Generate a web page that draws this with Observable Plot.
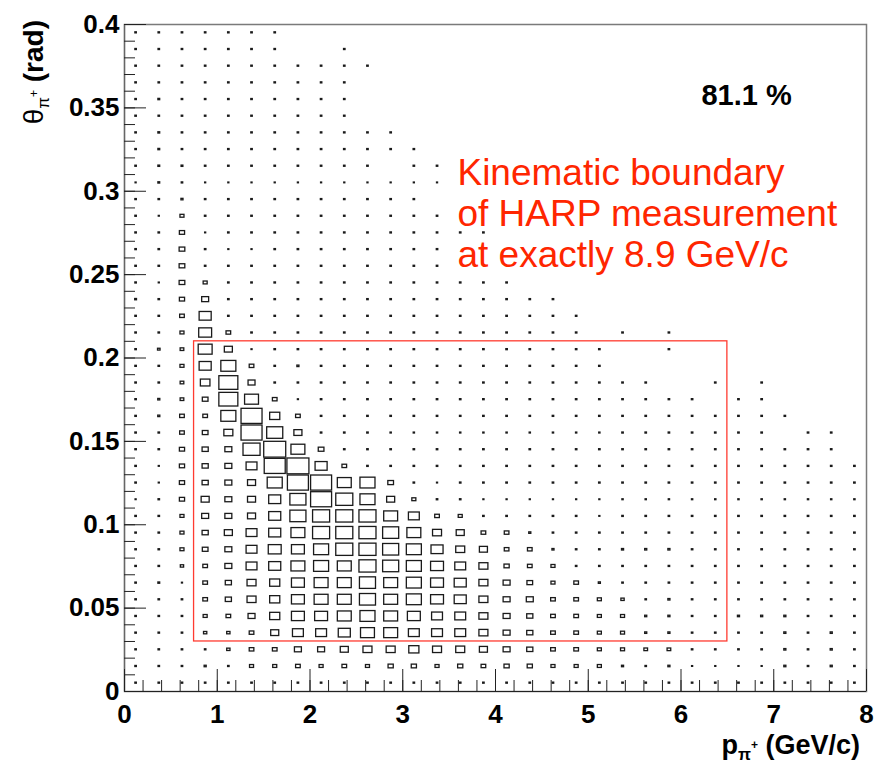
<!DOCTYPE html>
<html>
<head>
<meta charset="utf-8">
<script src="https://cdn.jsdelivr.net/npm/d3@7"></script>
<script src="https://cdn.jsdelivr.net/npm/@observablehq/plot@0.6"></script>
<style>
  html, body { margin: 0; padding: 0; background: #fff; }
  #chart svg { display: block; }
</style>
</head>
<body>
<div id="chart"></div>
<script>
// ---- Histogram binning ----
const pBinWidth = 0.25;      // GeV/c
const thetaBinWidth = 0.01;  // rad
const zMax = 100;            // content giving a full-bin box

// ---- Bin contents (relative), one list per theta bin, from theta = 0 upward.
// Each list runs over p bins from p = 0; missing trailing bins are empty.
const theta00 = [.4,.4,.4,.4,.4, .4,.4,.4,.4,.4, .4,.4,.4,.4,.4, .4,.4,.4,.4,.4, .4,.4,.4,.4,.4, .4,.4,.4,.4,.4, .4,.4];
const theta01 = [.4,.4,.4,.8,.4, 3,3,4,3,4, 3,5,5,3,5, 4,5,5,3,3, 3,.8,.4,.8,.2, .2,.2,.2,.8,.4, .8,.4];
const theta02 = [.4,.4,.4,.4,2, 4,4,9,9,12, 15,15,19,15,15, 12,9,7,4,4, 3,3,2.5,2.5,.4, .4,.4,.4,.8,.4, .8,.4];
const theta03 = [.4,.4,.4,2,2, 4,12,22,22,27, 36,36,22,22,22, 15,9,7,4,4, 3,3,.8,.8,.4, .4,.4,.4,.8,.4, .8,.4];
const theta04 = [.4,.4,.4,3,4, 9,19,31,31,36, 42,36,31,22,22, 15,9,7,4,4, 3,3,.8,.8,.4, .4,.8,.8,.8,.4, .4,.4];
const theta05 = [.4,.4,.4,4,7, 15,19,31,36,36, 48,36,42,31,27, 15,9,9,4,4, 3,2,.4,.8,.4, .4,.4,.4,.4,.4, .4,.4];
const theta06 = [.4,.6,.2,4,7, 15,19,31,36,36, 48,36,42,31,27, 15,9,6,3,4, .8,.4,.4,.4,.4, .4,.4,.4,.4,.4, .4,.4];
const theta07 = [.4,.4,2,4,9, 22,27,36,42,36, 54,48,42,31,22, 15,5,4,3,.4, .4,.4,.4,.4,.4, .4,.4,.4,.4,.4, .4,.4];
const theta08 = [.4,.4,3,6,9, 22,31,31,42,54, 54,48,42,27,15, 12,4,4,.8,.4, .4,.8,.8,.8,.4, .4,.4,.4,.4,.4, .4,.4];
const theta09 = [.4,.4,3,7,12, 22,27,36,54,54, 54,48,36,15,12, 4,4,.8,.4,.4, .4,.4,.4,.4,.4, .4,.4,.4,.4,.4, .4,.4];
const theta10 = [.4,.4,3,9,9, 12,27,48,54,54, 54,36,22,4,3, .4,.4,.4,.4,.4, .2,.4,.4,.4,.4, .4,.4,.4,.4,.4, .4,.4];
const theta11 = [.2,.4,5,12,9, 12,27,48,82,54, 42,12,3,.4,.4, .2,.2,.2,.2,.2, .2,.3,.3,.3,.3, .3,.3,.3,.3,.3, .3,.3];
const theta12 = [.4,.2,5,7,9, 12,42,82,82,36, 42,6,.4,.2,.4, .4,.4,.4,.4,.4, .4,.4,.4,.4,.4, .4,.4,.4,.4,.4, .4,.4];
const theta13 = [.4,.2,5,7,9, 22,82,90,27,4, .4,.4,.4,.4,.4, .4,.4,.4,.4,.4, .4,.4,.4,.4,.4, .4,.4,.4,.4,.4, .4,.4];
const theta14 = [.4,.4,5,7,9, 54,90,36,6,.4, .4,.4,.4,.4,.4, .4,.4,.4,.4,.4, .4,.4,.4,.4,.4, .4,.4,.4,.4,.4, .4];
const theta15 = [.4,.4,4,6,15, 82,48,12,.4,.4, .4,.3,.3,.3,.3, .3,.3,.3,.3,.3, .3,.4,.4,.4,.4, .4,.4,.4,0,.4, .4];
const theta16 = [.4,.8,4,4,42, 82,19,4,.4,.4, .4,.4,.4,.4,.4, .4,.4,.4,.4,.4, .4,.4,.4,.4,.4, .4,.4,.4,.4];
const theta17 = [.4,.8,2.5,6,67, 36,4,.2,.4,.4, .4,.4,.4,.4,.4, .4,.4,.4,.4,.4, .4,.4,.4,.4,.4, 0,.4,.4];
const theta18 = [.4,.4,2.5,17,67, 9,.4,.4,.4,.4, .4,.4,.4,.4,.4, .4,.4,.4,.4,.4, .4,.4,.4,0,0, .4,0,.4];
const theta19 = [.4,.4,3,27,42, 4,.4,.8,.4,.4, .4,.4,.4,.4,.4, .4,.4,.4,.4,.4, .4];
const theta20 = [.4,1.2,2.5,36,12, .2,.4,.4,.4,.4, .4,.4,.4,.4,.4, .4,.4,.4,.4,.4, .4,0,0,.4];
const theta21 = [.4,.4,3,31,4, .4,.4,.4,.4,.4, .4,.4,.4,.4,.4, .4,.4,.4,.4,.4, 0,.4,0,.4];
const theta22 = [.4,.4,4,27,.4, .4,.4,.4,.4,.4, .4,.4,.4,.4,.4, .4,.4,.4,.4,.4];
const theta23 = [.6,.4,5,9,.4, .4,.4,.4,.4,.4, .4,.4,.4,.4,.4, .4,.4,.4,.4];
const theta24 = [.4,.2,6,3,.4, .4,.4,.4,.4,.4, .4,.4,.4,.4,.4, .4,.4];
const theta25 = [.4,.4,6,.4,.4, .4,.4,.4,.4,.4, .4,.4,.4,.4];
const theta26 = [.4,.4,6,.4,.2, .2,.4,.4,.4,.4, .4,.4,.4,.4];
const theta27 = [.4,.4,5,.2,.4, .4,.4,.4,.4,.4, .4,.4,.4,.4,.4, .4];
const theta28 = [.4,.2,3,.4,.4, .4,.4,.4,.4,.4, .4,.4,.4,.4];
const theta29 = [.4,.4,.8,.4,.4, .4,.4,.4,.4,.4, .4,.4,.4];
const theta30 = [.2,.6,.4,.2,.2, .2,.2,.2,.2,.2, .2,.2,.2,.2];
const theta31 = [.4,.6,.6,.4,.4, .4,.4,.4,.4,.4, .4,0,.4,.4];
const theta32 = [.4,.6,.4,.4,.4, .4,.4,.4,.4,.4, .4,.4,.4];
const theta33 = [.4,.6,.4,.4,.4, .4,.4,.4,.4,.4, .4,.4];
const theta34 = [.4,.4,.4,.4,.4, .4,.4,.4,.4,.4];
const theta35 = [.4,.6,.4,.4,.4, .4,.4,.4,.4,.4];
const theta36 = [.4,.4,.4,.4,.4, .4,.4,.4,.4,.4];
const theta37 = [.4,.4,.4,.4,.4, .4,.4,.4,.4,.4, .4];
const theta38 = [.4,.4,.4,.4,.4, .4,.4,0,0,.4];
const theta39 = [.4,.4,.4,.4,.4, .4,.4];

const thetaRows = [theta00, theta01, theta02, theta03, theta04, theta05, theta06, theta07, theta08, theta09,
                   theta10, theta11, theta12, theta13, theta14, theta15, theta16, theta17, theta18, theta19,
                   theta20, theta21, theta22, theta23, theta24, theta25, theta26, theta27, theta28, theta29,
                   theta30, theta31, theta32, theta33, theta34, theta35, theta36, theta37, theta38, theta39];

// ---- Axis ticks and labels ----
const xMajorTicks = [0, 1, 2, 3, 4, 5, 6, 7, 8];
const yMajorTicks = [0, 0.05, 0.1, 0.15, 0.2, 0.25, 0.3, 0.35, 0.4];
const xMinorTicks = d3.range(0, 41).map(i => i * 0.2);
const yMinorTicks = d3.range(0, 41).map(i => i * 0.01);

// ---- Annotations ----
const boundary = [{pMin: 0.75, pMax: 6.5, thetaMin: 0.03, thetaMax: 0.21}];
const percentLabel = [{text: "81.1 %", p: 6.22, theta: 0.352}];
const boundaryNote = [
  {text: "Kinematic boundary", p: 3.59, theta: 0.304},
  {text: "of HARP measurement", p: 3.59, theta: 0.2789},
  {text: "at exactly 8.9 GeV/c", p: 3.59, theta: 0.2543}
];

// ---- Build the cell table ----
const cells = [];
thetaRows.forEach((row, j) => row.forEach((c, i) => {
  if (c > 0) cells.push({p: (i + 0.5) * pBinWidth, theta: (j + 0.5) * thetaBinWidth, c});
}));
const halfFrac = d => 0.5 * Math.sqrt(d.c / zMax);

const W = 879, H = 766;
const mL = 124, mR = 13, mT = 24, mB = 75;
const frameW = W - mL - mR, frameH = H - mT - mB;
const FONT = "'Liberation Sans', Arial, Helvetica, sans-serif";

const chart = Plot.plot({
  width: W,
  height: H,
  marginLeft: mL, marginRight: mR, marginTop: mT, marginBottom: mB,
  style: {fontFamily: FONT, background: "#fff", color: "#000"},
  x: {domain: [0, 8], axis: null},
  y: {domain: [0, 0.4], axis: null},
  marks: [
    Plot.rect(cells, {
      x1: d => d.p - halfFrac(d) * pBinWidth,
      x2: d => d.p + halfFrac(d) * pBinWidth,
      y1: d => d.theta - halfFrac(d) * thetaBinWidth,
      y2: d => d.theta + halfFrac(d) * thetaBinWidth,
      fill: "none", stroke: "#1a1a1a", strokeWidth: 1.3
    }),
    Plot.rect(boundary, {x1: "pMin", x2: "pMax", y1: "thetaMin", y2: "thetaMax",
      fill: "none", stroke: "#ff3b30", strokeWidth: 1.3}),
    Plot.frame({stroke: "#7a7a7a", strokeWidth: 1.5}),
    Plot.ruleY([0], {stroke: "#222", strokeWidth: 1.2}),
    Plot.ruleX([0], {stroke: "#666", strokeWidth: 1.2}),
    Plot.tickX(xMinorTicks, {x: d => d, insetTop: frameH - 11, stroke: "#222"}),
    Plot.tickX(xMajorTicks, {x: d => d, insetTop: frameH - 22, stroke: "#222"}),
    Plot.tickY(yMinorTicks, {y: d => d, insetRight: frameW - 11, stroke: "#222"}),
    Plot.tickY(yMajorTicks, {y: d => d, insetRight: frameW - 22, stroke: "#222"}),
    Plot.axisX({ticks: xMajorTicks, tickSize: 0, tickPadding: 13, fontSize: 26, fontWeight: "bold",
      tickFormat: d => String(d), label: null}),
    Plot.axisY({ticks: yMajorTicks, tickSize: 0, tickPadding: 5, fontSize: 26, fontWeight: "bold",
      tickFormat: d => String(+d.toFixed(2)), label: null}),
    Plot.text(percentLabel, {x: "p", y: "theta", text: "text", textAnchor: "start", lineAnchor: "bottom",
      fontSize: 29, fontWeight: "bold", fill: "#000"}),
    Plot.text(boundaryNote, {x: "p", y: "theta", text: "text", textAnchor: "start", lineAnchor: "bottom",
      fontSize: 37, fill: "#ff2600"})
  ]
});

// ---- Axis titles (with sub/superscripts) ----
const xs = chart.scale("x"), ys = chart.scale("y");
const svg = d3.select(chart);
const xt = svg.append("text")
  .attr("x", xs.apply(8) - 6).attr("y", ys.apply(0) + 63)
  .attr("text-anchor", "end").attr("font-family", FONT)
  .attr("font-weight", "bold").attr("font-size", 27).attr("fill", "#000");
xt.append("tspan").text("p");
xt.append("tspan").attr("font-size", 17).attr("dy", 6).text("π");
xt.append("tspan").attr("font-size", 12).attr("dy", -11).text("+");
xt.append("tspan").attr("dy", 5).text(" (GeV/c)");

const yt = svg.append("text")
  .attr("transform", `translate(43, ${ys.apply(0.4) - 4}) rotate(-90)`)
  .attr("text-anchor", "end").attr("font-family", FONT)
  .attr("font-size", 28).attr("fill", "#000");
yt.append("tspan").attr("font-weight", "normal").text("θ");
yt.append("tspan").attr("font-size", 17).attr("dy", 6).text("π");
yt.append("tspan").attr("font-size", 12).attr("dy", -11).text("+");
yt.append("tspan").attr("dy", 5).attr("font-weight", "bold").text(" (rad)");

document.getElementById("chart").appendChild(chart);
</script>
</body>
</html>
